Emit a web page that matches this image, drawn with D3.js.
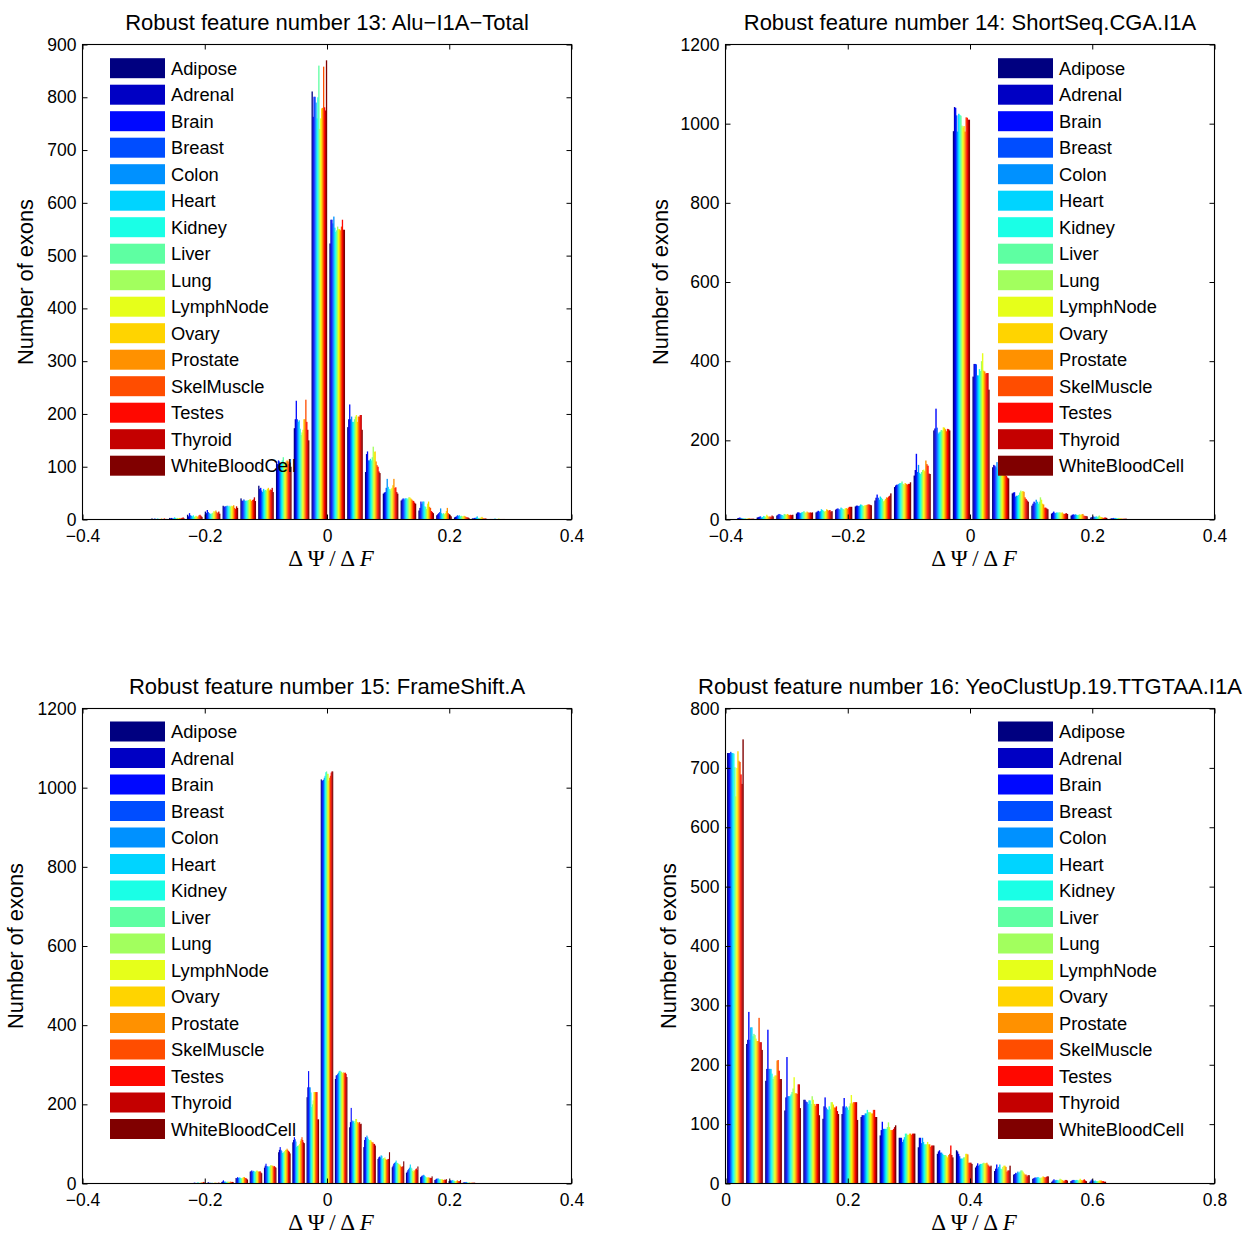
<!DOCTYPE html>
<html><head><meta charset="utf-8">
<script src="https://cdn.jsdelivr.net/npm/d3@7"></script>
<style>
body{margin:0;background:#fff}
svg{display:block}
text{font-family:"Liberation Sans",Arial,Helvetica,sans-serif;fill:#000}
</style>
</head><body>
<svg id="fig" width="1251" height="1235"></svg>
<script>
// ---------------- data ----------------
const tissues = ["Adipose","Adrenal","Brain","Breast","Colon","Heart","Kidney","Liver","Lung","LymphNode","Ovary","Prostate","SkelMuscle","Testes","Thyroid","WhiteBloodCell"];
const tissueColors = ["#000080","#0000C4","#0008FF","#004DFF","#0091FF","#00D4FF","#1AFFE6","#5EFFA2","#A2FF5E","#E6FF1A","#FFD400","#FF9100","#FF4D00","#FF0800","#C40000","#800000"];

const titles = [
  "Robust feature number 13: Alu\u2212I1A\u2212Total",
  "Robust feature number 14: ShortSeq.CGA.I1A",
  "Robust feature number 15: FrameShift.A",
  "Robust feature number 16: YeoClustUp.19.TTGTAA.I1A"
];
const yLabel = "Number of exons";

const xTicksSym = [-0.4,-0.2,0,0.2,0.4];
const xTicksPos = [0,0.2,0.4,0.6,0.8];
const yTicks13 = [0,100,200,300,400,500,600,700,800,900];
const yTicks14 = [0,200,400,600,800,1000,1200];
const yTicks15 = [0,200,400,600,800,1000,1200];
const yTicks16 = [0,100,200,300,400,500,600,700,800];

// bin centers (x values of histogram groups)
const centers13 = [-0.2749,-0.2458,-0.2166,-0.1875,-0.1584,-0.1292,-0.1001,-0.0710,-0.0419,-0.0128,0.0164,0.0455,0.0746,0.1037,0.1329,0.1620,0.1911,0.2202,0.2494,0.2785];
const centers14 = [-0.3674,-0.3353,-0.3032,-0.2711,-0.2390,-0.2069,-0.1748,-0.1427,-0.1106,-0.0785,-0.0464,-0.0143,0.0178,0.0499,0.0820,0.1141,0.1462,0.1783,0.2104,0.2425];
const centers15 = [-0.2094,-0.1862,-0.1629,-0.1397,-0.1165,-0.0932,-0.0700,-0.0468,-0.0235,-0.0003,0.0229,0.0462,0.0694,0.0926,0.1159,0.1391,0.1623,0.1856,0.2088,0.2320];
const centers16 = [0.0159,0.0471,0.0783,0.1095,0.1407,0.1719,0.2031,0.2343,0.2655,0.2967,0.3279,0.3591,0.3903,0.4215,0.4527,0.4839,0.5151,0.5463,0.5775,0.6087];

// counts: one row per bin, 16 tissues per row (order of `tissues`)
const counts13 = [
  [2,1,1,2,1,1,2,1,1,1,2,1,1,2,1,1],
  [3,2,3,2,2,4,3,2,3,2,3,2,3,3,4,2],
  [9,6,12,8,7,6,8,5,6,7,5,6,8,9,7,5],
  [15,12,18,14,12,11,10,12,13,16,14,17,14,12,15,11],
  [26,24,25,25,26,26,24,26,24,26,25,27,22,20,25,22],
  [40,36,35,38,36,35,36,36,37,38,38,35,37,38,42,35],
  [64,58,60,55,52,58,55,56,55,58,60,55,57,56,60,52],
  [110,105,112,110,105,108,112,118,105,108,110,112,110,105,108,100],
  [173,190,225,190,185,188,172,160,165,170,190,190,227,185,170,150],
  [811,763,801,801,790,760,800,860,740,760,779,780,858,781,775,870],
  [523,568,568,561,574,553,545,548,555,550,550,548,555,568,549,549],
  [175,190,218,190,195,185,185,190,195,198,185,195,195,198,198,170],
  [90,124,129,112,112,115,112,118,138,128,129,110,103,100,91,88],
  [49,51,52,60,77,62,58,55,58,60,65,77,60,61,52,49],
  [36,38,40,38,40,40,40,38,42,42,40,38,36,35,32,30],
  [17,22,34,30,34,34,25,24,20,30,34,24,22,16,14,12],
  [8,10,12,14,21,12,10,12,10,12,16,22,12,10,8,6],
  [4,5,6,8,7,8,6,7,6,6,7,6,5,4,4,3],
  [2,2,3,3,4,6,3,3,3,4,5,3,2,2,2,1],
  [1,1,1,1,1,2,1,1,1,2,1,1,1,1,1,1]
];
const counts14 = [
  [3,4,5,4,3,3,2,3,2,2,3,3,2,2,2,2],
  [5,6,7,8,5,6,9,8,7,12,9,6,8,6,10,8],
  [10,12,14,13,12,11,10,14,13,12,14,12,11,12,11,12],
  [15,18,18,17,16,18,19,21,18,17,20,18,17,18,17,18],
  [18,20,22,20,21,26,24,22,20,21,26,24,22,24,20,21],
  [25,27,28,26,25,30,28,26,25,28,29,27,30,32,32,32],
  [33,35,35,34,35,38,37,35,34,36,36,37,38,38,37,36],
  [48,55,63,55,50,58,55,52,46,48,52,56,55,58,60,66],
  [82,86,88,88,90,92,92,96,90,88,92,90,88,90,90,94],
  [111,125,166,120,138,118,115,120,125,126,122,149,140,136,116,115],
  [225,230,280,232,217,220,222,226,225,233,232,228,223,229,228,225],
  [981,1042,1040,1021,980,1025,1022,1020,995,990,994,980,1016,1015,1010,1010],
  [361,393,393,392,364,364,380,375,400,420,376,374,369,370,370,328],
  [132,138,136,132,145,128,124,118,120,122,118,116,112,110,106,104],
  [66,68,69,58,60,60,62,68,73,70,72,70,56,52,48,45],
  [35,40,45,42,50,45,40,45,56,50,40,38,30,30,28,26],
  [15,17,20,17,16,18,17,18,18,16,18,15,14,15,16,14],
  [10,12,13,12,13,12,11,12,13,12,13,14,10,9,9,8],
  [5,6,8,7,6,8,6,8,10,7,6,5,4,5,5,4],
  [2,3,3,4,3,4,3,3,4,3,3,2,2,2,2,2]
];
const counts15 = [
  [1,2,2,1,1,2,3,2,1,2,2,3,2,4,3,2],
  [2,3,2,1,2,1,2,1,1,2,2,2,1,1,2,2],
  [4,5,8,5,4,5,3,4,5,4,3,5,4,4,4,3],
  [14,13,16,14,15,15,14,13,14,15,16,16,14,14,12,10],
  [30,31,33,30,32,30,31,29,32,33,31,30,30,31,28,26],
  [40,45,50,44,43,43,42,44,46,46,45,45,43,44,42,40],
  [79,85,92,85,82,77,78,80,82,85,85,88,85,82,80,76],
  [104,110,117,112,106,92,95,95,97,100,108,112,117,110,104,102],
  [218,243,284,243,243,230,193,200,210,231,231,231,231,231,162,162],
  [1021,1018,1018,1020,1025,1030,1039,1041,1035,1035,1018,1025,1030,1038,1041,1041],
  [264,273,274,277,280,284,285,283,282,280,278,281,279,280,277,269],
  [142,155,191,155,159,157,153,158,163,163,155,155,152,155,150,151],
  [92,110,117,115,121,117,112,110,108,110,106,104,104,100,100,96],
  [62,66,68,66,71,70,62,64,64,66,62,60,60,62,62,79],
  [41,45,50,52,54,58,52,52,50,48,48,44,42,42,44,56],
  [27,30,34,37,40,48,40,38,32,30,34,32,36,38,34,43],
  [16,18,20,20,22,20,18,16,15,15,16,14,15,14,14,18],
  [9,10,12,12,13,12,10,11,10,11,10,9,9,10,9,11],
  [6,7,8,7,8,9,6,7,6,6,7,8,6,6,6,9],
  [2,3,3,3,4,3,2,2,3,2,2,2,2,2,2,2]
];
const counts16 = [
  [725,725,725,727,725,725,724,701,652,700,728,712,710,689,673,748],
  [235,242,289,242,263,263,248,252,250,244,240,240,279,238,238,225],
  [173,193,259,193,193,193,185,176,180,182,182,207,208,190,176,176],
  [123,145,213,147,147,147,150,154,160,179,152,152,151,167,167,127],
  [141,141,138,137,134,140,140,134,147,141,134,131,134,134,134,115],
  [109,130,145,128,125,124,130,125,137,137,133,128,128,130,122,117],
  [117,130,144,128,130,128,124,130,135,149,135,137,137,137,137,107],
  [112,115,115,115,118,118,124,120,120,120,118,118,124,124,112,112],
  [81,90,104,92,92,92,92,95,103,95,90,90,90,92,95,98],
  [77,77,77,70,74,78,84,84,82,82,84,84,82,84,84,84],
  [61,77,77,68,77,70,66,66,66,70,66,66,62,64,64,64],
  [50,54,56,52,52,50,48,48,48,46,44,48,50,64,48,44],
  [56,54,50,46,42,42,42,44,44,50,50,49,35,35,35,33],
  [27,30,34,30,32,33,33,34,35,34,34,35,32,30,28,30],
  [21,25,32,25,28,32,25,24,28,30,30,28,20,22,22,30],
  [15,16,18,17,20,18,20,22,22,20,17,15,15,12,14,14],
  [8,9,10,10,10,11,10,9,10,10,12,11,10,11,12,12],
  [3,5,7,5,6,6,5,6,8,7,6,5,4,6,6,5],
  [4,5,6,6,5,6,6,5,6,8,6,5,6,7,5,4],
  [3,5,7,5,4,5,4,4,4,5,5,5,4,4,3,3]
];

// ---------------- layout ----------------
const W = 489, H = 475;
const panels = [
  {title:titles[0], centers:centers13, counts:counts13, xDomain:[-0.4,0.4], yDomain:[0,900],  xTicks:xTicksSym, yTicks:yTicks13, left:82,  top:44,  ylabX:25,  legX:27.5,  legY:13.7},
  {title:titles[1], centers:centers14, counts:counts14, xDomain:[-0.4,0.4], yDomain:[0,1200], xTicks:xTicksSym, yTicks:yTicks14, left:725, top:44,  ylabX:660, legX:272.5, legY:13.7},
  {title:titles[2], centers:centers15, counts:counts15, xDomain:[-0.4,0.4], yDomain:[0,1200], xTicks:xTicksSym, yTicks:yTicks15, left:82,  top:708, ylabX:15,  legX:27.5,  legY:13},
  {title:titles[3], centers:centers16, counts:counts16, xDomain:[0,0.8],    yDomain:[0,800],  xTicks:xTicksPos, yTicks:yTicks16, left:725, top:708, ylabX:668, legX:272.5, legY:13}
];

const svg = d3.select("#fig");
const fmtX = d => d === 0 ? "0" : d3.format(".1f")(d);

panels.forEach(p => {
  const g = svg.append("g").attr("transform", `translate(${p.left + 0.5},${p.top + 0.5})`);
  const x = d3.scaleLinear().domain(p.xDomain).range([0, W]);
  const y = d3.scaleLinear().domain(p.yDomain).range([H, 0]);
  const spacing = x(p.centers[1]) - x(p.centers[0]);
  const gw = spacing * 0.86;
  const bw = gw / tissues.length;

  // bars
  tissues.forEach((t, j) => {
    g.append("g").attr("fill", tissueColors[j])
      .selectAll("rect")
      .data(p.counts.map((row, i) => ({c: p.centers[i], v: row[j]})))
      .join("rect")
      .attr("x", d => x(d.c) - gw / 2 + j * bw)
      .attr("width", bw + 0.35)
      .attr("y", d => y(d.v))
      .attr("height", d => y(0) - y(d.v));
  });

  // axes (ticks inside, on all four sides)
  const styleAxis = a => {
    a.select(".domain").remove();
    a.selectAll("line").attr("stroke", "#000");
    a.selectAll("text").attr("font-size", 17.5).attr("font-family", '"Liberation Sans",Arial,sans-serif').attr("fill", "#000");
    a.attr("font-family", null).attr("font-size", null);
  };
  g.append("g").attr("transform", `translate(0,${H})`)
    .call(d3.axisBottom(x).tickValues(p.xTicks).tickSize(-5).tickPadding(10).tickFormat(fmtX)).call(styleAxis);
  g.append("g")
    .call(d3.axisTop(x).tickValues(p.xTicks).tickSize(-5).tickFormat("")).call(styleAxis);
  g.append("g")
    .call(d3.axisLeft(y).tickValues(p.yTicks).tickSize(-5).tickPadding(6).tickFormat(d3.format("d"))).call(styleAxis);
  g.append("g").attr("transform", `translate(${W},0)`)
    .call(d3.axisRight(y).tickValues(p.yTicks).tickSize(-5).tickFormat("")).call(styleAxis);

  g.append("rect").attr("x", 0).attr("y", 0).attr("width", W).attr("height", H)
    .attr("fill", "none").attr("stroke", "#000").attr("stroke-width", 1.1);

  // title
  g.append("text").attr("x", W / 2).attr("y", -15).attr("text-anchor", "middle")
    .attr("font-size", 22).text(p.title);

  // y label
  g.append("text")
    .attr("transform", `translate(${p.ylabX - p.left},${H / 2}) rotate(-90)`)
    .attr("text-anchor", "middle").attr("dominant-baseline", "central")
    .attr("font-size", 21.8).text(yLabel);

  // x label  ΔΨ / ΔF
  const xl = g.append("text").attr("x", W / 2 + 4).attr("y", H + 46)
    .attr("text-anchor", "middle").attr("font-size", 23)
    .style("font-family", '"Liberation Serif","Times New Roman",serif');
  xl.append("tspan").text("\u0394\u2009\u03A8\u2009/\u2009\u0394\u2009");
  xl.append("tspan").attr("font-style", "italic").text("F");

  // legend
  const leg = g.append("g").attr("transform", `translate(${p.legX},${p.legY})`);
  tissues.forEach((t, j) => {
    leg.append("rect").attr("x", 0).attr("y", j * 26.5).attr("width", 55).attr("height", 20)
      .attr("fill", tissueColors[j]);
    leg.append("text").attr("x", 61).attr("y", j * 26.5 + 10)
      .attr("dominant-baseline", "central").attr("font-size", 18.3).text(t);
  });
});
</script>
</body></html>
